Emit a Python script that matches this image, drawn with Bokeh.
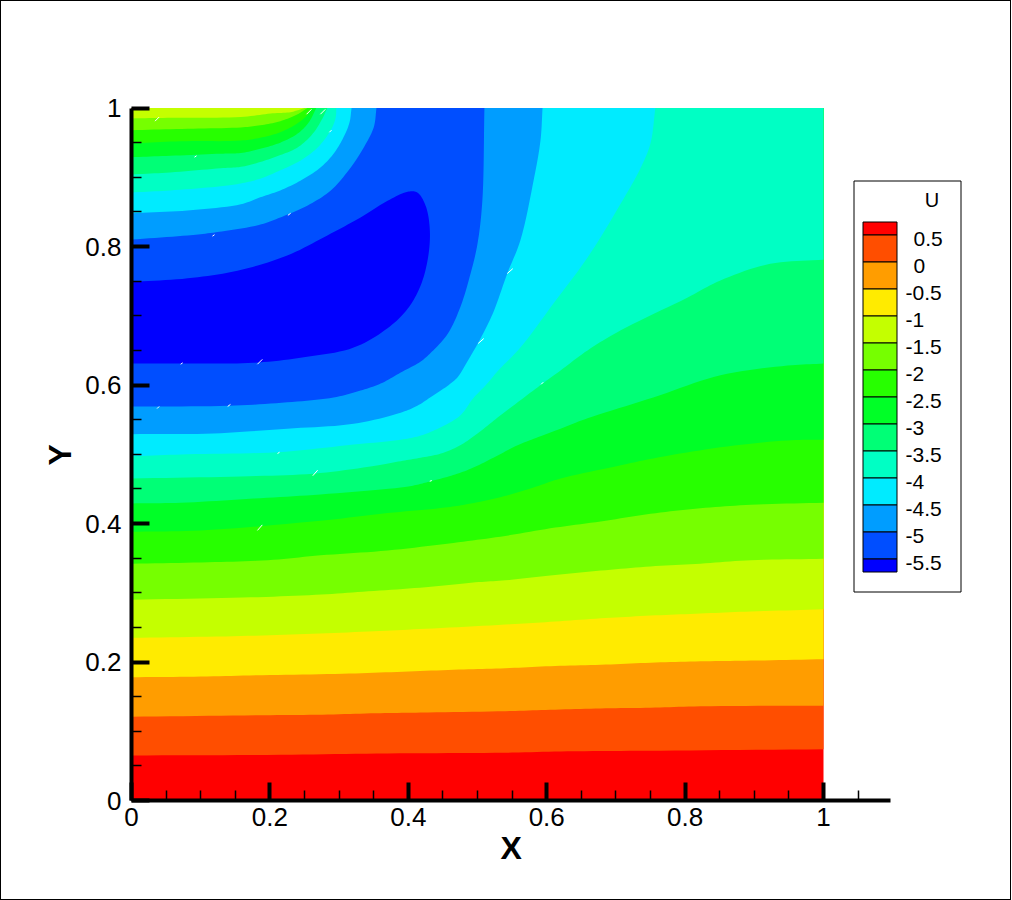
import numpy as np
from bokeh.plotting import figure
from bokeh.embed import file_html
from bokeh.resources import INLINE
from bokeh.models import FixedTicker, Title
from bokeh.core.properties import value

# Colour bands, from the lowest level to the highest
band_colors = ["#0000ff", "#004eff", "#009dff", "#00ebff", "#00ffc4", "#00ff76", "#00ff27",
               "#27ff00", "#76ff00", "#c4ff00", "#ffeb00", "#ff9d00", "#ff4e00", "#ff0000"]
legend_labels = ["0.5", "0", "-0.5", "-1", "-1.5", "-2", "-2.5", "-3", "-3.5", "-4", "-4.5", "-5", "-5.5"]
x_tick_labels = {0: "0", 0.2: "0.2", 0.4: "0.4", 0.6: "0.6", 0.8: "0.8", 1: "1"}

# Contour boundaries (lower branches)
c1_x = [0, .215, .370, .540, .630, .764, 1]
c1_y = [.065, .066, .068, .069, .071, .072, .074]
c2_x = [0, .179, .276, .353, .418, .540, .605, .678, .750, .822, 1]
c2_y = [.121, .123, .124, .126, .127, .129, .131, .133, .134, .136, .137]
c3_x = [0, .100, .189, .305, .392, .473, .540, .605, .678, .750, .822, .895, 1]
c3_y = [.178, .179, .181, .183, .186, .189, .191, .194, .196, .199, .201, .202, .204]
c4_x = [0, .136, .241, .342, .425, .540, .605, .678, .750, .822, .895, 1]
c4_y = [.235, .237, .240, .244, .248, .254, .258, .263, .267, .270, .273, .276]
c5_x = [0, .160, .266, .342, .425, .497, .540, .605, .678, .750, .822, .895, 1]
c5_y = [.290, .293, .297, .302, .308, .315, .318, .325, .332, .338, .342, .347, .349]
c6_x = [0, .111, .197, .273, .370, .465, .533, .605, .678, .750, .822, .895, 1]
c6_y = [.342, .344, .347, .354, .361, .372, .381, .393, .403, .414, .422, .427, .430]
c7_x = [0, .100, .273, .370, .453, .486, .533, .581, .620, .707, .754, .851, .948, 1]
c7_y = [.388, .390, .404, .415, .423, .428, .438, .452, .465, .484, .494, .510, .520, .521]
c8_x = [0, .071, .176, .273, .389, .413, .432, .462, .490, .523, .558, .591, .620, .659, .754, .851, .948, 1]
c8_y = [.429, .430, .436, .442, .452, .456, .461, .469, .479, .495, .513, .526, .537, .552, .582, .614, .628, .631]
c9_x = [0, .158, .263, .350, .389, .418, .447, .475, .500, .529, .558, .594, .620, .659, .707, .803, .851, .923, 1]
c9_y = [.465, .468, .472, .483, .490, .495, .501, .513, .530, .553, .575, .602, .621, .650, .679, .726, .751, .775, .781]
c10_x = [0, .081, .211, .321, .389, .418, .447, .475, .494, .514, .530, .562, .610, .659, .707, .736, .750, .757]
c10_y = [.497, .500, .503, .514, .521, .527, .539, .556, .581, .602, .621, .654, .718, .784, .862, .914, .949, 1]
c11_x = [0, .118, .225, .321, .389, .413, .436, .457, .471, .486, .501, .522, .543, .562, .581, .591, .594]
c11_y = [.529, .530, .537, .544, .560, .570, .585, .599, .611, .635, .661, .703, .761, .809, .895, .953, 1]
c12_x = [0, .140, .225, .292, .331, .360, .389, .418, .436, .457, .475, .490, .500, .507, .510]
c12_y = [.569, .570, .575, .582, .592, .602, .618, .634, .650, .674, .712, .761, .804, .866, 1]

# Upper branches near the top-left corner
a5_x = [0, .066, .158, .201, .230, .244, .250]
a5_y = [.985, .986, .987, .992, .994, .998, 1]
a6_x = [0, .081, .158, .186, .215, .240, .254]
a6_y = [.968, .970, .972, .975, .981, .991, 1]
a7_x = [0, .071, .158, .186, .215, .240, .256, .260]
a7_y = [.949, .952, .953, .957, .965, .978, .992, 1]
a8_x = [0, .056, .129, .158, .186, .215, .240, .256, .267]
a8_y = [.929, .931, .934, .935, .941, .950, .963, .979, 1]
a9_x = [0, .056, .129, .158, .186, .215, .240, .262, .276, .283]
a9_y = [.904, .907, .913, .915, .922, .932, .943, .963, .985, 1]
a10_x = [0, .056, .129, .158, .186, .215, .244, .269, .288, .295, .296]
a10_y = [.878, .881, .887, .891, .898, .910, .924, .943, .968, .986, 1]
a11_x = [0, .081, .158, .186, .215, .244, .273, .292, .306, .315, .318]
a11_y = [.848, .852, .861, .871, .881, .895, .914, .934, .957, .979, 1]
a12_x = [0, .081, .118, .184, .215, .254, .288, .316, .335, .350, .354]
a12_y = [.810, .816, .820, .831, .842, .859, .881, .913, .942, .972, 1]

# Closed region of the lowest level
blob_x = [0, .081, .153, .225, .283, .331, .370, .399, .413, .425, .431, .429, .418, .399, .370, .321, .249, .176, .095, 0]
blob_y = [.749, .754, .765, .787, .816, .842, .866, .879, .878, .859, .826, .787, .744, .710, .682, .654, .640, .632, .631, .631]

# Small white flecks in the contour plot
speck_x0 = [.034, .091, .253, .273, .286, .226, .117, .071, .182, .037, .139, .211, .262, .431, .182, .543, .501, .592]
speck_y0 = [.981, .929, .991, .991, .965, .845, .815, .630, .630, .566, .569, .501, .469, .461, .390, .761, .660, .601]
speck_x1 = [.040, .094, .260, .280, .289, .230, .120, .074, .189, .040, .143, .214, .269, .434, .189, .551, .509, .595]
speck_y1 = [.987, .931, .998, .998, .968, .848, .817, .632, .637, .569, .572, .503, .477, .462, .398, .768, .667, .604]

W, H = 1012, 900
PX0, PX1 = 131, 823
PY0, PY1 = 800, 107.5
SX, SY = PX1 - PX0, PY0 - PY1
AXIS_END = 1.0968
FONT = "Liberation Sans"


def dx(px):
    return (px - PX0) / SX


def dy(py):
    return (PY0 - py) / SY


def smooth(xs, ys, n=10):
    """Draw a read contour as a curve through its points (centripetal Catmull-Rom)."""
    P = np.column_stack([xs, ys]).astype(float)
    P = np.vstack([2 * P[0] - P[1], P, 2 * P[-1] - P[-2]])
    out = []
    for i in range(1, len(P) - 2):
        p0, p1, p2, p3 = P[i - 1], P[i], P[i + 1], P[i + 2]
        t0 = 0.0
        t1 = t0 + np.linalg.norm(p1 - p0) ** 0.5
        t2 = t1 + np.linalg.norm(p2 - p1) ** 0.5
        t3 = t2 + np.linalg.norm(p3 - p2) ** 0.5
        for t in np.linspace(t1, t2, n, endpoint=False):
            a1 = (t1 - t) / (t1 - t0) * p0 + (t - t0) / (t1 - t0) * p1
            a2 = (t2 - t) / (t2 - t1) * p1 + (t - t1) / (t2 - t1) * p2
            a3 = (t3 - t) / (t3 - t2) * p2 + (t - t2) / (t3 - t2) * p3
            b1 = (t2 - t) / (t2 - t0) * a1 + (t - t0) / (t2 - t0) * a2
            b2 = (t3 - t) / (t3 - t1) * a2 + (t - t1) / (t3 - t1) * a3
            out.append((t2 - t) / (t2 - t1) * b1 + (t - t1) / (t2 - t1) * b2)
    out.append(P[-2])
    out = np.array(out)
    return out[:, 0].tolist(), out[:, 1].tolist()


p = figure(width=W, height=H, output_backend="svg", toolbar_location=None,
           x_range=(0, (W - PX0) / SX), y_range=(0, PY0 / SY),
           min_border_left=PX0, min_border_right=0, min_border_top=0, min_border_bottom=H - PY0,
           background_fill_color="white", border_fill_color="white", outline_line_color=None)
p.grid.visible = False
# Outer frame of the picture, laid over the canvas
p.stylesheets = [":host::after{content:'';position:absolute;left:0;top:0;width:1009px;height:898px;"
                 "border:1px solid black;pointer-events:none;z-index:10;}"]

# Filled contour bands, each painted over the previous one
p.patch([0, 1, 1, 0], [0, 0, 1, 1], fill_color=band_colors[13], line_color=None)
for lx, ly, col in [(c1_x, c1_y, band_colors[12]), (c2_x, c2_y, band_colors[11]),
                    (c3_x, c3_y, band_colors[10]), (c4_x, c4_y, band_colors[9])]:
    sx, sy = smooth(lx, ly)
    p.patch(sx + [1, 0], sy + [1, 1], fill_color=col, line_color=None)
for lx, ly, ax, ay, col in [(c5_x, c5_y, a5_x, a5_y, band_colors[8]),
                            (c6_x, c6_y, a6_x, a6_y, band_colors[7]),
                            (c7_x, c7_y, a7_x, a7_y, band_colors[6]),
                            (c8_x, c8_y, a8_x, a8_y, band_colors[5]),
                            (c9_x, c9_y, a9_x, a9_y, band_colors[4])]:
    sx, sy = smooth(lx, ly)
    ux, uy = smooth(ax, ay)
    p.patch(sx + [1] + ux[::-1], sy + [1] + uy[::-1], fill_color=col, line_color=None)
for lx, ly, ax, ay, col in [(c10_x, c10_y, a10_x, a10_y, band_colors[3]),
                            (c11_x, c11_y, a11_x, a11_y, band_colors[2]),
                            (c12_x, c12_y, a12_x, a12_y, band_colors[1])]:
    sx, sy = smooth(lx, ly)
    ux, uy = smooth(ax, ay)
    p.patch(sx + ux[::-1], sy + uy[::-1], fill_color=col, line_color=None)
bx, by = smooth(blob_x, blob_y)
p.patch(bx, by, fill_color=band_colors[0], line_color=None)
p.segment(speck_x0, speck_y0, speck_x1, speck_y1, line_color="white", line_width=1)

# Axes
major = list(x_tick_labels.keys())
xminor = [i * 0.05 for i in range(0, 22)]
yminor = [i * 0.05 for i in range(0, 21)]
for ax, minor in [(p.xaxis[0], xminor), (p.yaxis[0], yminor)]:
    ax.ticker = FixedTicker(ticks=major, minor_ticks=minor)
    ax.major_label_overrides = x_tick_labels
    ax.axis_line_width = 4
    ax.axis_line_color = "black"
    ax.major_tick_line_width = 4
    ax.major_tick_line_color = "black"
    ax.major_tick_in = 18
    ax.major_tick_out = 0
    ax.minor_tick_line_width = 1.5
    ax.minor_tick_line_color = "black"
    ax.minor_tick_in = 10
    ax.minor_tick_out = 0
    ax.major_label_text_font = FONT
    ax.major_label_text_font_size = "26px"
    ax.major_label_text_color = "black"
p.xaxis[0].bounds = (0, AXIS_END)
p.yaxis[0].bounds = (0, 1)
p.xaxis[0].major_label_standoff = 7
p.yaxis[0].major_label_standoff = 10

# Axis titles, placed over the axes' own extent
p.add_layout(Title(text="X", align="left", offset=369, standoff=-1, text_font=FONT, text_font_size="32px",
                   text_font_style="bold", text_color="black"), "below")
p.add_layout(Title(text="Y", align="left", offset=335, standoff=10, text_font=FONT, text_font_size="32px",
                   text_font_style="bold", text_color="black"), "left")

# Legend
p.quad(left=[dx(853.5)], right=[dx(960.5)], top=[dy(180.5)], bottom=[dy(591.5)],
       fill_color="white", line_color="black", line_width=1)
LEG_L, LEG_R = 862.5, 896.5
edges = [221.5] + [234.5 + 27 * i for i in range(13)] + [571.5]
p.quad(left=[dx(LEG_L)] * 14, right=[dx(LEG_R)] * 14,
       top=[dy(e) for e in edges[:-1]], bottom=[dy(e) for e in edges[1:]],
       fill_color=band_colors[::-1], line_color="black", line_width=1)
p.text([dx(931.5)], [dy(199)], text=["U"], text_font=value(FONT), text_font_size="20px",
       text_align="center", text_baseline="middle", text_color="black")
p.text([dx(905 if s.startswith("-") else 913) for s in legend_labels],
       [dy(238 + 27 * i) for i in range(len(legend_labels))],
       text=legend_labels, text_font=value(FONT), text_font_size="21px",
       text_align="left", text_baseline="middle", text_color="black")

open("out.html", "w").write(file_html(p, INLINE))
